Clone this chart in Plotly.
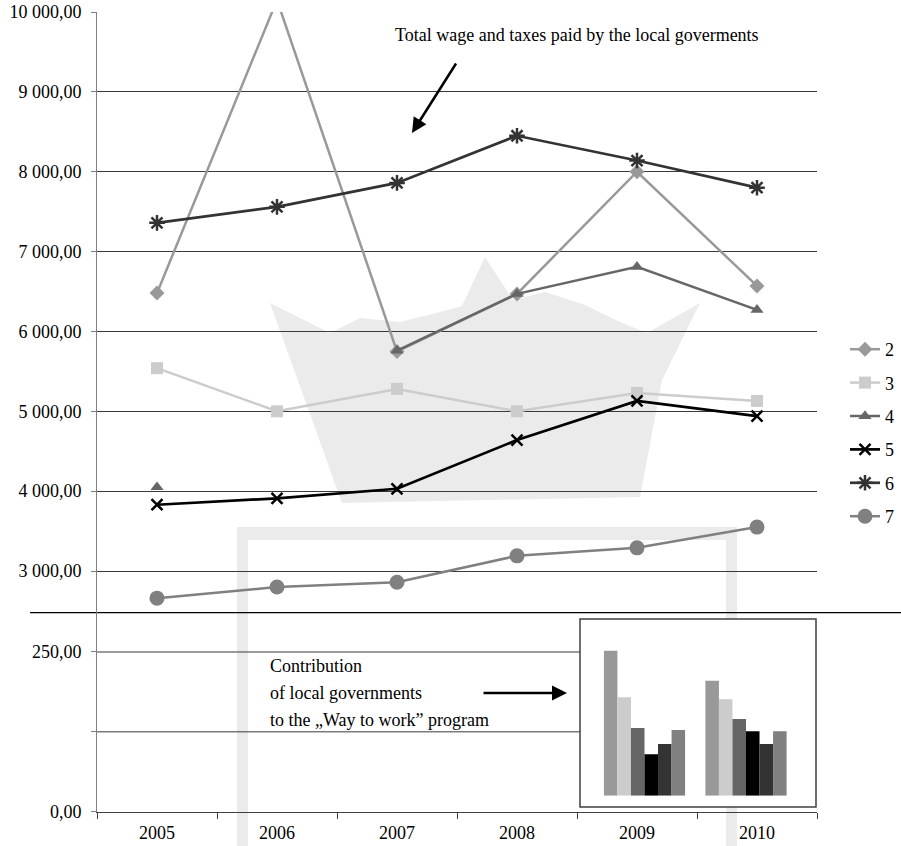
import plotly.graph_objects as go

# ---- data -------------------------------------------------------------
years = ["2005", "2006", "2007", "2008", "2009", "2010"]

series_names = ["2", "3", "4", "5", "6", "7"]
s2 = [6480, 10150, 5750, 6470, 8000, 6570]
s3 = [5540, 5000, 5280, 5000, 5230, 5130]
s4 = [4050, None, 5760, 6470, 6810, 6270]
s5 = [3830, 3910, 4030, 4640, 5130, 4940]
s6 = [7360, 7560, 7860, 8450, 8140, 7800]
s7 = [2660, 2800, 2860, 3190, 3290, 3550]

# contribution to the "Way to work" programme (inset bars)
inset_years = ["2009", "2010"]
contrib_2009 = [227, 154, 106, 65, 81, 103]
contrib_2010 = [180, 151, 120, 101, 81, 101]

upper_ticks = [3000, 4000, 5000, 6000, 7000, 8000, 9000, 10000]
lower_ticks = [0, 125, 250]
lower_labelled = [0, 250]

# ---- styling ------------------------------------------------------------
W, H = 901, 846
FONT = "Liberation Serif, Times New Roman, serif"
colors = ["#999999", "#cccccc", "#666666", "#000000", "#333333", "#808080"]
symbols = ["diamond", "square", "triangle-up", "x-thin-open", "asterisk-open", "circle"]
sizes = [11.5, 12, 11.5, 11, 13, 15]
widths = [2.5, 2.5, 2.5, 2.7, 2.7, 2.5]
WM = "#ebebeb"  # background emblem tint


def px(x):
    return x / W


def py(y):
    return 1 - y / H


def fmt(v):
    return f"{v:,.2f}".replace(",", " ").replace(".", ",")


def poly(points):
    return "M " + " L ".join(f"{px(x):.5f},{py(y):.5f}" for x, y in points) + " Z"


fig = go.Figure()

for i, (name, vals) in enumerate(zip(series_names, [s2, s3, s4, s5, s6, s7])):
    open_sym = symbols[i].endswith("open")
    fig.add_trace(go.Scatter(
        x=years, y=vals, name=name, mode="lines+markers",
        xaxis="x", yaxis="y", legendgroup=name,
        line=dict(color=colors[i], width=widths[i]),
        marker=dict(symbol=symbols[i], size=sizes[i], color=colors[i],
                    line=dict(width=2.5 if open_sym else 0, color=colors[i])),
        connectgaps=False,
    ))

for i, name in enumerate(series_names):
    fig.add_trace(go.Bar(
        x=inset_years, y=[contrib_2009[i], contrib_2010[i]],
        xaxis="x3", yaxis="y3", marker=dict(color=colors[i], line=dict(width=0)),
        showlegend=False, name=name,
    ))

axis_col = "#404040"
fig.update_layout(
    template="none",
    width=W, height=H,
    margin=dict(l=0, r=0, t=0, b=0, pad=0, autoexpand=False),
    paper_bgcolor="white", plot_bgcolor="rgba(0,0,0,0)",
    font=dict(family=FONT, size=18, color="black"),
    barmode="group", bargap=0.2, bargroupgap=0,
    xaxis=dict(
        domain=[px(97), px(817)], anchor="y2", type="category", automargin=False,
        range=[-0.5, len(years) - 0.5],
        tickson="boundaries", ticks="outside", ticklen=6, tickcolor=axis_col,
        showline=True, linecolor=axis_col, linewidth=1, showgrid=False,
        zeroline=False, tickfont=dict(size=18), ticklabelstandoff=5,
    ),
    yaxis=dict(
        domain=[py(612.7), py(12)], anchor="x", range=[2478, 10000], automargin=False,
        tickvals=upper_ticks, ticktext=[fmt(v) for v in upper_ticks],
        showgrid=True, gridcolor="#3a3a3a", gridwidth=1,
        showline=True, linecolor="#808080", linewidth=1,
        ticks="outside", ticklen=5, tickcolor="#808080",
        ticklabelstandoff=6, zeroline=False,
    ),
    yaxis2=dict(
        domain=[py(811.7), py(612.7)], anchor="x", range=[0, 311.5], automargin=False,
        tickvals=lower_ticks,
        ticktext=[fmt(v) if v in lower_labelled else "" for v in lower_ticks],
        showgrid=False, showline=True, linecolor="#808080", linewidth=1,
        ticks="outside", ticklen=5, tickcolor="#808080",
        ticklabelstandoff=6, zeroline=False,
    ),
    xaxis3=dict(domain=[px(593.75), px(796.75)], anchor="y3", type="category",
                range=[-0.5, 1.5], visible=False),
    yaxis3=dict(domain=[py(795.7), py(636)], anchor="x3", range=[0, 250],
                visible=False),
    legend=dict(
        x=px(845), y=py(331), xanchor="left", yanchor="top",
        font=dict(size=18), tracegroupgap=7, bgcolor="rgba(0,0,0,0)",
        itemwidth=30, borderwidth=0,
    ),
)

shapes = []
# faint emblem behind the plot: crown ...
crown = [(270, 303), (330, 333), (360, 318), (400, 322), (440, 312), (462, 306),
         (485, 257), (513, 300), (545, 292), (585, 305), (620, 322), (647, 333),
         (700, 303), (662, 380), (640, 497), (342, 503)]
shapes.append(dict(type="path", xref="paper", yref="paper", path=poly(crown),
                   fillcolor=WM, line=dict(width=0), layer="below"))
# ... and shield frame
for x0, x1, y0, y1 in [(237, 737, 527, 540), (237, 248, 527, 846), (726, 737, 527, 846)]:
    shapes.append(dict(type="rect", xref="paper", yref="paper",
                       x0=px(x0), x1=px(x1), y0=py(y1), y1=py(y0),
                       fillcolor=WM, line=dict(width=0), layer="below"))

# gridlines of the lower (0-250) panel, stopping at the inset frame
for v in lower_ticks[1:]:
    shapes.append(dict(type="line", xref="paper", yref="y2", x0=px(97), x1=px(580),
                       y0=v, y1=v, line=dict(color="#3a3a3a", width=1), layer="below"))
# break between the two value ranges
shapes.append(dict(type="line", xref="paper", yref="y domain", x0=px(30), x1=1,
                   y0=0, y1=0, line=dict(color="black", width=1.2), layer="below"))
# inset frame
shapes.append(dict(type="rect", xref="paper", yref="paper",
                   x0=px(580), x1=px(816), y0=py(807), y1=py(619),
                   line=dict(color="#404040", width=1.5), fillcolor="white", layer="below"))
fig.update_layout(shapes=shapes)

annotations = [
    dict(text="Total wage and taxes paid by the local goverments", x=px(577), y=py(35),
         xref="paper", yref="paper", showarrow=False, xanchor="center", yanchor="middle",
         font=dict(size=18)),
    dict(text="", x=px(412), y=py(133), xref="paper", yref="paper", showarrow=True,
         ax=45, ay=-71, arrowhead=2, arrowsize=1.2, arrowwidth=2.5, arrowcolor="black"),
    dict(text="", x=px(567), y=py(693), xref="paper", yref="paper", showarrow=True,
         ax=-85, ay=0, arrowhead=2, arrowsize=1.2, arrowwidth=2.5, arrowcolor="black"),
]
for txt, yy in [("Contribution", 666), ("of local governments", 693),
                ("to the \u201eWay to work\u201d program", 720)]:
    annotations.append(dict(text=txt, x=px(268), y=py(yy), xref="paper", yref="paper",
                            showarrow=False, xanchor="left", yanchor="middle",
                            font=dict(size=18)))
fig.update_layout(annotations=annotations)

fig.write_html("out.html")
